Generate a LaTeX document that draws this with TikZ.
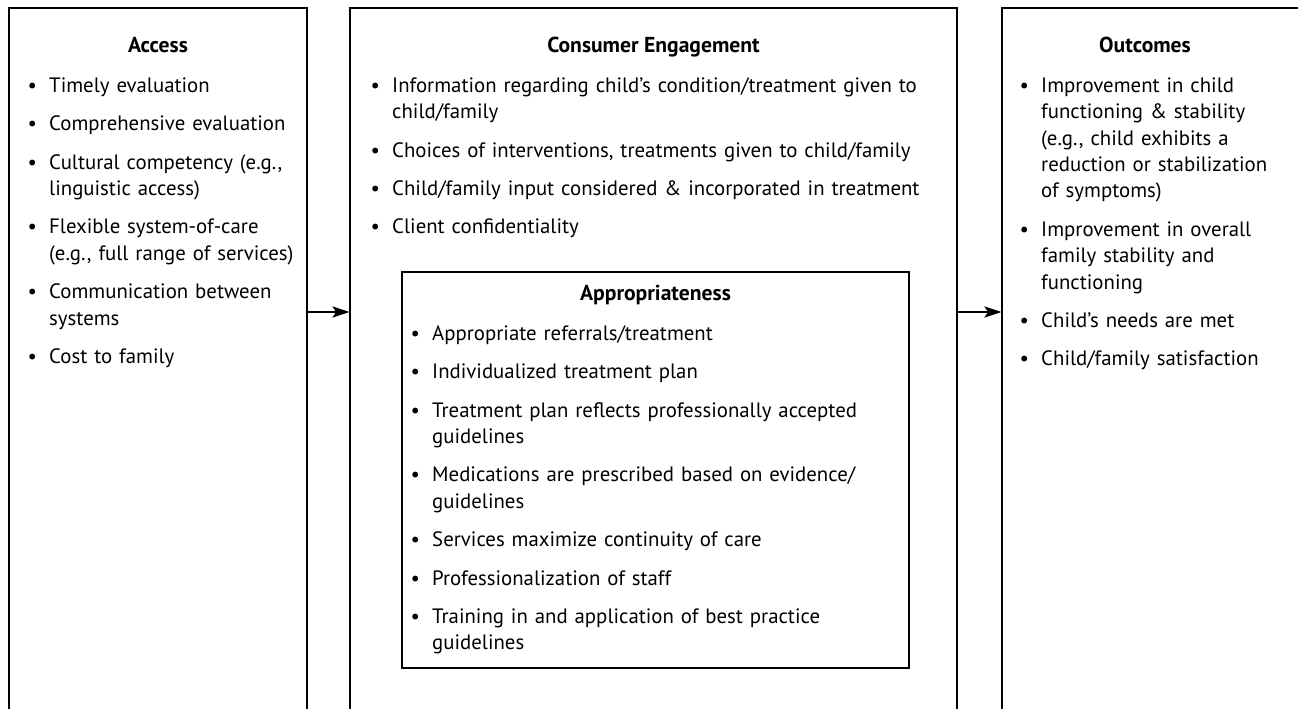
\documentclass[tikz,border=0pt]{standalone}
\usepackage{fontspec}
\setmainfont{PT Sans}
\usepackage{enumitem}
\usetikzlibrary{arrows.meta, fit}
\tikzset{>={Stealth[length=12.75pt, width=8.5pt, inset=3pt]}}

% bullet lists in the boxes
\setlist[itemize]{label=\makebox[0pt][c]{\textbullet}, leftmargin=20pt, labelwidth=0pt, labelsep=12.75pt,
  itemsep=9pt, parsep=0pt, topsep=0pt, partopsep=0pt}
\newcommand{\boxfont}{\fontsize{15.6}{19.8}\selectfont}

\begin{document}
\begin{tikzpicture}[x=0.75pt, y=-0.75pt,
  box/.style={draw, inner sep=0pt, line width=1.1pt},
  head/.style={anchor=base, inner sep=0pt, font=\fontsize{16.2}{19.8}\selectfont\bfseries},
  list/.style={anchor=north west, inner sep=0pt, text width=#1, font=\boxfont},
  link/.style={->, line width=0.8pt}]
\useasboundingbox (0,0) rectangle (1298,709);
\clip (0,0) rectangle (1298,709);

% the three columns, open at the bottom
\node[box, fit={(9,8) (307,740)}] (access) {};
\node[box, fit={(350,8) (957,740)}] (engage) {};
\node[box, fit={(1002,8) (1340,740)}] (outcome) {};
\node[box, fit={(402,272) (909,668)}] (approp) {};

\node[head] (accesshead) at (158,53) {Access};
\node[list=260pt] (accesslist) at (22.3,65.6) {%
  \begin{itemize}
    \item Timely evaluation
    \item Comprehensive evaluation
    \item Cultural competency (e.g.,\newline linguistic access)
    \item Flexible system-of-care\newline (e.g., full range of services)
    \item Communication between\newline systems
    \item Cost to family
  \end{itemize}};

\node[head] (engagehead) at (653.5,53) {Consumer Engagement};
\node[list=520pt] (engagelist) at (365.3,65.6) {%
  \begin{itemize}
    \item Information regarding child’s condition/treatment given to\newline child/family
    \item Choices of interventions, treatments given to child/family
    \item Child/family input considered \& incorporated in treatment
    \item Client confidentiality
  \end{itemize}};

\node[head] (appropttl) at (655.5,300) {Appropriateness};
\node[list=440pt] (approplist) at (405.3,313.6) {%
  \begin{itemize}
    \item Appropriate referrals/treatment
    \item Individualized treatment plan
    \item Treatment plan reflects professionally accepted\newline guidelines
    \item Medications are prescribed based on evidence/\newline guidelines
    \item Services maximize continuity of care
    \item Professionalization of staff
    \item Training in and application of best practice\newline guidelines
  \end{itemize}};

\node[head] (outcomehead) at (1145,53) {Outcomes};
\node[list=240pt] (outcomelist) at (1014.3,65.6) {%
  \begin{itemize}
    \item Improvement in child\newline functioning \& stability\newline (e.g., child exhibits a\newline reduction or stabilization\newline of symptoms)
    \item Improvement in overall\newline family stability and\newline functioning
    \item Child’s needs are met
    \item Child/family satisfaction
  \end{itemize}};

% flow between the columns
\coordinate (flow) at (0,312);
\draw[link] (access.east |- flow) -- (engage.west |- flow);
\draw[link] (engage.east |- flow) -- (outcome.west |- flow);
\end{tikzpicture}
\end{document}
